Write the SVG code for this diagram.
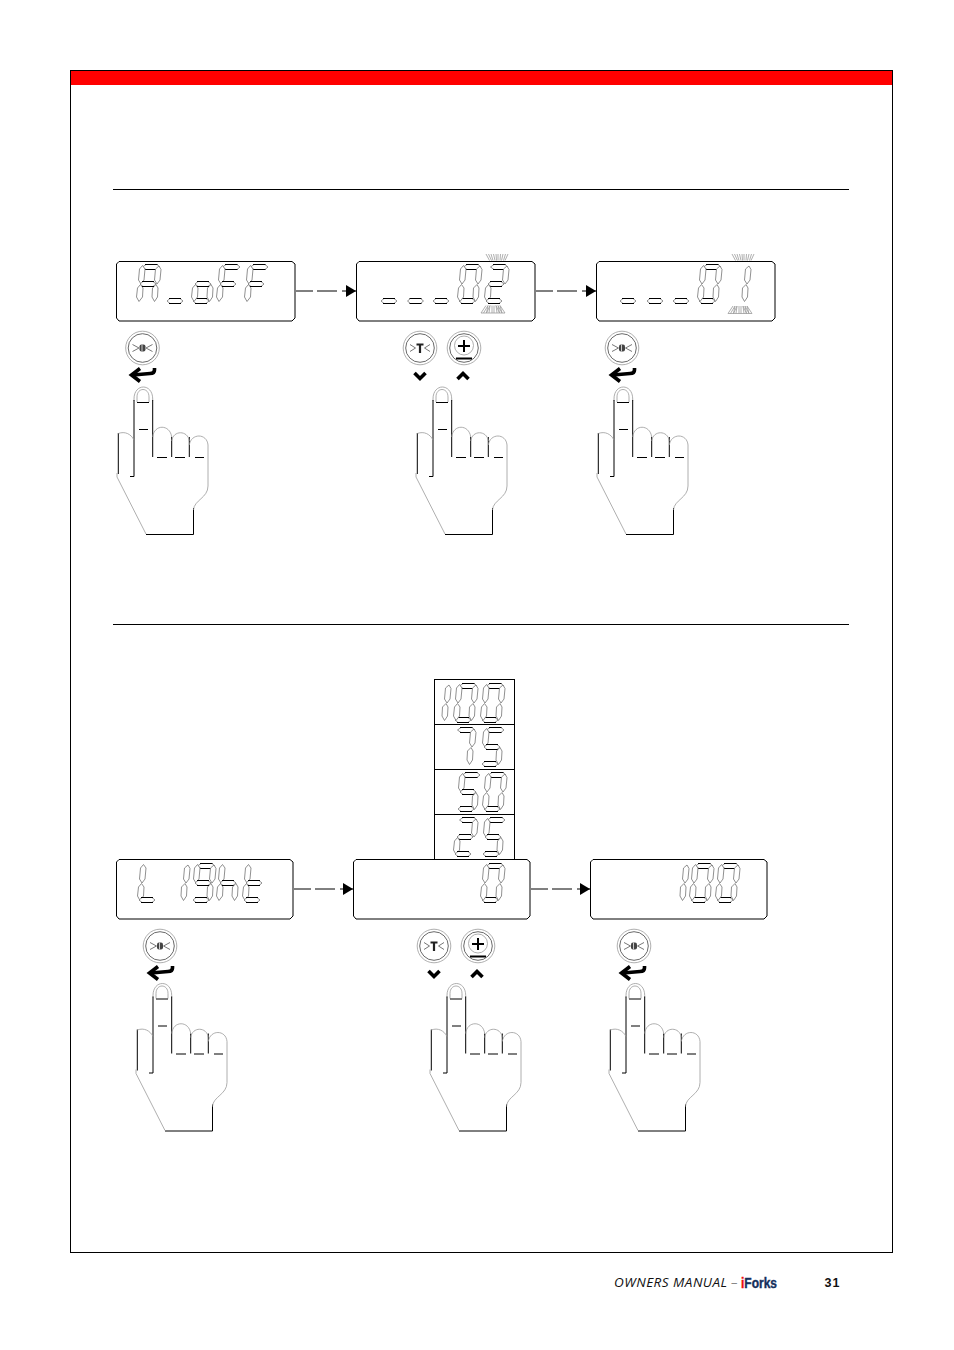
<svg xmlns="http://www.w3.org/2000/svg" width="954" height="1350" viewBox="0 0 954 1350">
<style>
.seg{fill:#fff;stroke:#747474;stroke-width:.8}
.sk{stroke:#000;stroke-width:1;fill:none}
.g{fill:none;stroke:#9a9a9a;stroke-width:.8}
.k{fill:none;stroke:#000;stroke-width:1}
.panel{fill:#fff;stroke:#000;stroke-width:1}
.conn{fill:none;stroke:#000;stroke-width:1}
.bold{fill:none;stroke:#000;stroke-width:3.6}
.foot{font-family:"Open Sans","Liberation Sans",sans-serif;font-size:13.5px;font-style:italic;fill:#111}
</style>
<defs>
<marker id="ah" markerWidth="11" markerHeight="12" refX="10" refY="6" orient="auto" markerUnits="userSpaceOnUse"><path d="M0 0L10 6L0 12Z" fill="#000"/></marker>
<g id="sa"><polygon class="seg" points="5.500,3 9,.5 20,.5 23,3 20,5.500 9,5.500"/><path class="sk" d="M8 .5H20.500M8 5.500H20.500"/></g>
<g id="sg"><polygon class="seg" points="3,20 6,17.500 16,17.500 19,20 16,22.500 6,22.500"/><path class="sk" d="M5 17.500H17M5 22.500H17"/></g>
<g id="sd"><polygon class="seg" points="1,37 4,34.500 14,34.500 17,37 14,39.500 4,39.500"/><path class="sk" d="M3 34.500H15M3 39.500H15"/></g>
<polygon id="sf" class="seg" points="5.500,1.500 8,5 7,16 4,20 1.500,16 2.500,5"/>
<polygon id="se" class="seg" points="3.500,20.500 6,24 5.500,33 2,37.500 -.5,33 .5,24"/>
<polygon id="sb" class="seg" points="22,2 24,5.500 23,16 20,20 17.500,16 18.500,5"/>
<polygon id="sc" class="seg" points="19,20.500 21,24 20.500,33 17.500,37.500 15,33 15.500,24"/>
<g id="cA"><use href="#sa"/><use href="#sb"/><use href="#sc"/><use href="#se"/><use href="#sf"/><use href="#sg"/></g>
<g id="cF"><use href="#sa"/><use href="#se"/><use href="#sf"/><use href="#sg"/></g>
<g id="co"><use href="#sc"/><use href="#sd"/><use href="#se"/><use href="#sg"/></g>
<g id="c0"><use href="#sa"/><use href="#sb"/><use href="#sc"/><use href="#sd"/><use href="#se"/><use href="#sf"/></g>
<g id="c1"><use href="#sb"/><use href="#sc"/></g>
<g id="c2"><use href="#sa"/><use href="#sb"/><use href="#sg"/><use href="#se"/><use href="#sd"/></g>
<g id="c5"><use href="#sa"/><use href="#sf"/><use href="#sg"/><use href="#sc"/><use href="#sd"/></g>
<g id="c7"><use href="#sa"/><use href="#sb"/><use href="#sc"/></g>
<g id="c9"><use href="#sa"/><use href="#sb"/><use href="#sc"/><use href="#sd"/><use href="#sf"/><use href="#sg"/></g>
<g id="cL"><use href="#se"/><use href="#sf"/><use href="#sd"/></g>
<g id="ch"><use href="#se"/><use href="#sf"/><use href="#sg"/><use href="#sc"/></g>
<g id="ct"><use href="#se"/><use href="#sf"/><use href="#sg"/><use href="#sd"/></g>
<path id="panelT" class="panel" d="M3 .5H176L179 3V57L176 60H3L.5 57V3Z"/>
<path id="panelB" class="panel" d="M3 .5H174L177 3V57L174 60H3L.5 57V3Z"/>
<g id="rays" class="g"><path d="M1 0L4.500 6.500M3.500 0L6.500 6.500M6 0L8 6.500M8.500 0L10 6.500M11 0L11.500 6.500M13 0V6.500M15.500 0L15 6.500M18 0L16.500 6.500M20.500 0L18.500 6.500M23 0L20 6.500"/></g>
<g id="raysb" class="g"><path d="M0 7.500L5 0M2.500 7.500L7 0L5.500 7.500L9 0L8 7.500M11 7.500V0M13 7.500V0M16 7.500L15 0L18.500 7.500L17 0L21 7.500L19 0L24 7.500M0 7.500H24"/></g>
<g id="ring"><circle r="16.800" class="g"/><circle r="14.300" fill="#fff" stroke="#444" stroke-width=".8"/></g>
<g id="bEnter"><use href="#ring"/><path fill="none" stroke="#777" stroke-width="1" d="M-10 -3.500L-3.500 0L-10 3.500M10 -3.500L3.500 0L10 3.500"/><rect x="-3" y="-3.500" width="6" height="7" rx="2" fill="#444"/><path d="M-.5 -3.500V3.500" stroke="#ccc"/></g>
<g id="bT"><use href="#ring"/><path fill="none" stroke="#777" stroke-width="1" d="M-10 -3.500L-4.500 0L-10 3.500M10 -3.500L4.500 0L10 3.500"/><path d="M-3.500 -3.500H3.500M0 -3.500V5" stroke="#222" stroke-width="2.200" fill="none"/></g>
<g id="bPlus"><use href="#ring"/><circle cy="-2.500" r="9.500" class="g"/><path d="M-6 -2H6M0 -8V4M-8 10.500H8" stroke="#000" stroke-width="2" fill="none"/></g>
<g id="enter"><path class="bold" stroke-width="4" d="M154.500 368V370Q154.500 373.500 150 373.500L133 375"/><path class="bold" d="M140 368.500L131.500 375L140 381.500"/></g>
<path id="chevD" d="M-5.500 -3L0 2.500L5.500 -3" class="bold"/>
<path id="chevU" d="M-5.500 3L0 -2.500L5.500 3" class="bold"/>
<g id="hand">
<path class="g" d="M134 401V399C134 383 152.700 383 152.700 399V401M137 402V397C137 387 149 387 149 397V402"/>
<path class="k" d="M134 400V476.500H130M152.700 400V457M137 402.500H149M139 429.500H148M171.700 437V457M189.300 437V457M157 457.500H167M175 457.500H185M195 457.500H204M118.300 433V474M193.500 508V534.500H146"/>
<path class="g" d="M152.700 437C154 424 170 424 171.700 437M171.700 441C173 430 188 430 189.300 441M189.300 445C191 433 207 433 208 445V486C208 498 194 500 193.500 510M146 534L117 477V473M118.300 433.500C125 431 131 434 134 440"/>
</g>
</defs>

<rect id="frame" x="70.500" y="70.500" width="822" height="1182" fill="#fff" stroke="#000"/>
<rect id="redbar" x="71" y="71" width="821" height="14" fill="#ff0000"/>
<path d="M113 189.500H849M113 624.500H849" stroke="#000" fill="none"/>

<g id="connectors">
<path class="conn" d="M296 291H313M317 291H337M342 291H356" marker-end="url(#ah)"/>
<path class="conn" d="M536 291H553M557 291H577M582 291H596" marker-end="url(#ah)"/>
<path class="conn" d="M294 889H311M315 889H335M340 889H353" marker-end="url(#ah)"/>
<path class="conn" d="M531 889H548M552 889H572M577 889H590" marker-end="url(#ah)"/>
</g>

<g id="lcd-aoff" transform="translate(116 261)">
<use href="#panelT"/>
<use href="#cA" x="21" y="3"/><use href="#sd" x="50" y="3"/><use href="#co" x="76" y="3"/><use href="#cF" x="101" y="3"/><use href="#cF" x="129" y="3"/>
</g>
<g id="lcd-02" transform="translate(356 261)">
<use href="#panelT"/>
<use href="#sd" x="24" y="3"/><use href="#sd" x="50.500" y="3"/><use href="#sd" x="76" y="3"/>
<use href="#c0" x="102" y="3"/><use href="#c2" x="129" y="3"/>
<use href="#rays" x="129" y="-7"/><use href="#raysb" x="125" y="44.500"/>
</g>
<g id="lcd-01" transform="translate(596 261)">
<use href="#panelT"/>
<use href="#sd" x="23" y="3"/><use href="#sd" x="50" y="3"/><use href="#sd" x="76" y="3"/>
<use href="#c0" x="102" y="3"/><use href="#c1" x="131" y="3"/>
<use href="#rays" x="135" y="-7"/><use href="#raysb" x="132" y="45"/>
</g>

<g id="btn-1"><use href="#bEnter" x="142.500" y="348"/><use href="#enter"/></g>
<g id="btn-2"><use href="#bT" x="420" y="348"/><use href="#chevD" x="420" y="376"/></g>
<g id="btn-3"><use href="#bPlus" x="464" y="348"/><use href="#chevU" x="463" y="376"/></g>
<g id="btn-4"><use href="#bEnter" x="622" y="348"/><use href="#enter" x="480"/></g>

<g id="hand-1"><use href="#hand"/></g>
<g id="hand-2"><use href="#hand" x="299"/></g>
<g id="hand-3"><use href="#hand" x="480"/></g>

<g id="column">
<rect x="434.500" y="679.500" width="80" height="180" fill="#fff" stroke="#000"/>
<path d="M434.500 724.500H514.500M434.500 769.500H514.500M434.500 814.500H514.500" stroke="#000"/>
<use href="#c1" x="427" y="683"/><use href="#c0" x="454" y="683"/><use href="#c0" x="481" y="683"/>
<use href="#c7" x="452" y="727"/><use href="#c5" x="481" y="727"/>
<use href="#c5" x="457" y="772"/><use href="#c0" x="483" y="772"/>
<use href="#c2" x="454" y="817"/><use href="#c5" x="482" y="817"/>
</g>

<g id="lcd-light" transform="translate(116 859)">
<use href="#panelB"/>
<use href="#cL" x="22" y="4"/><use href="#c1" x="50" y="4"/><use href="#c9" x="76" y="4"/><use href="#ch" x="101" y="4"/><use href="#ct" x="127" y="4"/>
</g>
<g id="lcd-0" transform="translate(353 859)">
<use href="#panelB"/>
<use href="#c0" x="128" y="4"/>
</g>
<g id="lcd-100" transform="translate(590 859)">
<use href="#panelB"/>
<use href="#c1" x="75" y="4"/><use href="#c0" x="100" y="4"/><use href="#c0" x="126" y="4"/>
</g>

<g id="btn-5"><use href="#bEnter" x="160" y="946"/><use href="#enter" x="18" y="598"/></g>
<g id="btn-6"><use href="#bT" x="434" y="946"/><use href="#chevD" x="434" y="974"/></g>
<g id="btn-7"><use href="#bPlus" x="478" y="946"/><use href="#chevU" x="477" y="974"/></g>
<g id="btn-8"><use href="#bEnter" x="634" y="946"/><use href="#enter" x="490" y="598"/></g>

<g id="hand-4"><use href="#hand" x="19" y="596.500"/></g>
<g id="hand-5"><use href="#hand" x="313" y="596.500"/></g>
<g id="hand-6"><use href="#hand" x="492" y="596.500"/></g>

<g id="footer">
<text class="foot" x="614" y="1287" textLength="113" lengthAdjust="spacing">OWNERS MANUAL</text>
<text class="foot" x="731" y="1287" style="fill:#888">–</text>
<text x="741" y="1288" font-family="Liberation Sans Narrow,Liberation Sans,sans-serif" font-size="15" font-weight="bold" stroke-width=".4" textLength="36" lengthAdjust="spacingAndGlyphs"><tspan fill="#ee1111" stroke="#ee1111">i</tspan><tspan fill="#14305c" stroke="#14305c">Forks</tspan></text>
<text x="824.500" y="1287" font-family="Liberation Sans,sans-serif" font-size="12.500" font-weight="bold" letter-spacing="1" fill="#111">31</text>
</g>
</svg>
